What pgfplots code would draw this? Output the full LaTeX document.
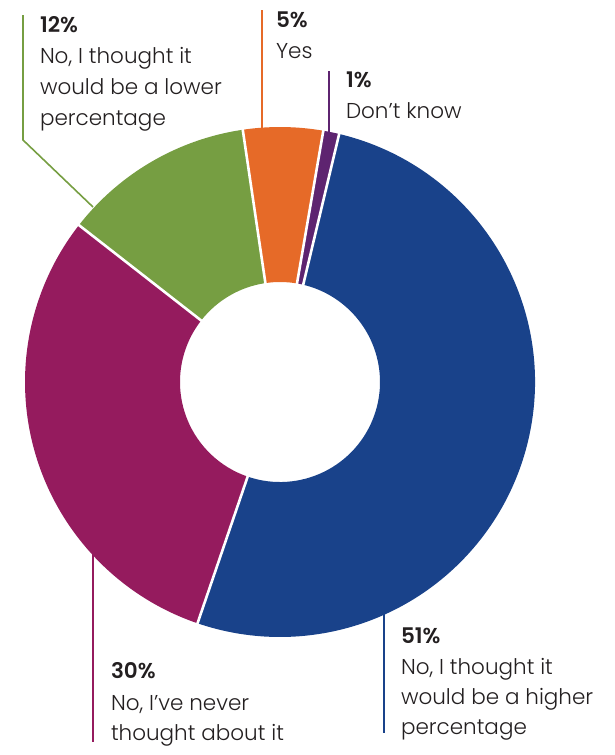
\documentclass[border=0pt]{standalone}
\usepackage{fontspec}
\setmainfont{Poppins}[UprightFont=* Light, BoldFont=* SemiBold]
\usepackage{pgfplots}
\usepackage{pgfplotstable}
\pgfplotsset{compat=1.18}

\definecolor{cOrange}{RGB}{230,106,40}
\definecolor{cPurple}{RGB}{94,36,112}
\definecolor{cBlue}{RGB}{25,66,138}
\definecolor{cMagenta}{RGB}{149,27,94}
\definecolor{cGreen}{RGB}{118,158,66}
\definecolor{txt}{RGB}{35,31,32}

% clockwise order, starting with "Yes"
\pgfplotstableread{
label value
Yes 5
DontKnow 1
Higher 51
Never 30
Lower 12
}\donut

\pgfplotstablegetelem{0}{value}\of\donut \let\vA\pgfplotsretval
\pgfplotstablegetelem{1}{value}\of\donut \let\vB\pgfplotsretval
\pgfplotstablegetelem{2}{value}\of\donut \let\vC\pgfplotsretval
\pgfplotstablegetelem{3}{value}\of\donut \let\vD\pgfplotsretval
\pgfplotstablegetelem{4}{value}\of\donut \let\vE\pgfplotsretval
\pgfmathsetmacro\total{\vA+\vB+\vC+\vD+\vE}
\pgfmathsetmacro\unit{360/\total}
% y axis is reversed, so angles run the other way on the page
\pgfmathsetmacro\aA{-98.4}
\pgfmathsetmacro\aB{\aA+\unit*\vA}
\pgfmathsetmacro\aC{\aB+\unit*\vB}
\pgfmathsetmacro\aD{\aC+\unit*\vC}
\pgfmathsetmacro\aE{\aD+\unit*\vD}
\pgfmathsetmacro\aF{\aE+\unit*\vE}

\newcommand\seg[3]{%
  \fill[#3] (axis cs:280,382) ++(#1:255) arc[start angle=#1, end angle=#2, radius=255]
     -- ++(#2:-155) arc[start angle=#2, end angle=#1, radius=100] -- cycle;}
\newcommand\sep[1]{%
  \draw[white, line width=2.6pt] (axis cs:280,382) ++(#1:95) -- ++(#1:166);}

\tikzset{lbl/.style={font=\fontsize{21.5}{26}\selectfont, text=txt, inner sep=0pt, outer sep=0pt, anchor=base west}}

\begin{document}
\begin{tikzpicture}
\begin{axis}[
  x=1pt, y=1pt, y dir=reverse,
  xmin=0, xmax=615, ymin=0, ymax=755,
  hide axis, clip=false,
]
\path (axis cs:0,0) rectangle (axis cs:615,755);
\seg{\aA}{\aB}{cOrange}
\seg{\aB}{\aC}{cPurple}
\seg{\aC}{\aD}{cBlue}
\seg{\aD}{\aE}{cMagenta}
\seg{\aE}{\aF}{cGreen}
\sep{\aA}\sep{\aB}\sep{\aC}\sep{\aD}\sep{\aE}

% leader lines
\draw[cGreen, line width=1.6pt] (axis cs:23,15) -- (axis cs:23,140) -- (axis cs:93,207);
\draw[cOrange, line width=1.6pt] (axis cs:262,10) -- (axis cs:262,130);
\draw[cPurple, line width=1.6pt] (axis cs:329,71) -- (axis cs:329,132);
\draw[cBlue, line width=1.6pt] (axis cs:384,612) -- (axis cs:384,733);
\draw[cMagenta, line width=1.6pt] (axis cs:93,552) -- (axis cs:93,742);

% labels
\node[lbl] at (axis cs:40,32) {\textbf{12\%}};
\node[lbl] at (axis cs:40,63) {No, I thought it};
\node[lbl] at (axis cs:40,94) {would be a lower};
\node[lbl] at (axis cs:40,125) {percentage};

\node[lbl] at (axis cs:276,27) {\textbf{5\%}};
\node[lbl] at (axis cs:276,58) {Yes};

\node[lbl] at (axis cs:346,87) {\textbf{1\%}};
\node[lbl] at (axis cs:346,118) {Don’t know};

\node[lbl] at (axis cs:401,643) {\textbf{51\%}};
\node[lbl] at (axis cs:401,674) {No, I thought it};
\node[lbl] at (axis cs:401,704) {would be a higher};
\node[lbl] at (axis cs:401,734) {percentage};

\node[lbl] at (axis cs:111,678) {\textbf{30\%}};
\node[lbl] at (axis cs:111,710) {No, I’ve never};
\node[lbl] at (axis cs:111,740) {thought about it};
\end{axis}
\end{tikzpicture}
\end{document}
